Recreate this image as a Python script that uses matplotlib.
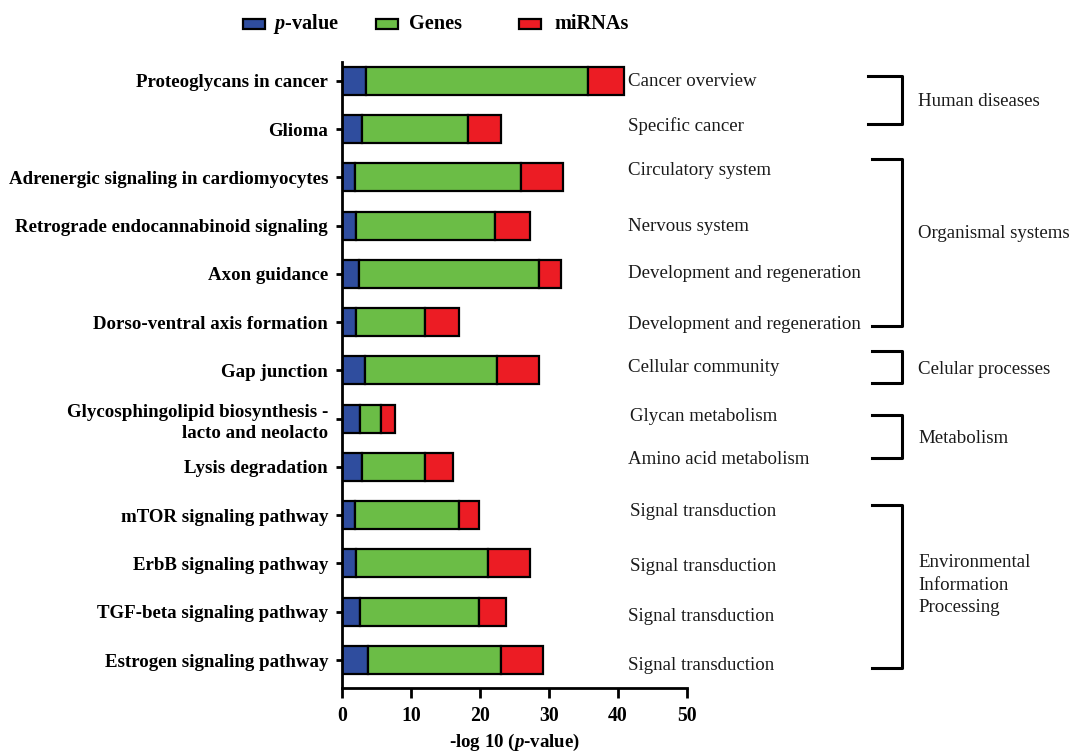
import matplotlib
matplotlib.use("Agg")
import matplotlib.pyplot as plt
from matplotlib.patches import Rectangle

plt.rcParams['font.family'] = ['Liberation Serif', 'DejaVu Serif']
plt.rcParams['mathtext.fontset'] = 'custom'
plt.rcParams['mathtext.it'] = 'Liberation Serif:bold:italic'
plt.rcParams['mathtext.rm'] = 'Liberation Serif:bold'

# KEGG pathways, top to bottom
pathways = ["Proteoglycans in cancer", "Glioma",
            "Adrenergic signaling in cardiomyocytes",
            "Retrograde endocannabinoid signaling", "Axon guidance",
            "Dorso-ventral axis formation", "Gap junction",
            "Glycosphingolipid biosynthesis -\nlacto and neolacto",
            "Lysis degradation", "mTOR signaling pathway",
            "ErbB signaling pathway", "TGF-beta signaling pathway",
            "Estrogen signaling pathway"]
pvalue = [3.5, 2.9, 1.9, 2.0, 2.5, 2.0, 3.3, 2.6, 2.9, 1.9, 2.0, 2.6, 3.8]
genes = [32.1, 15.3, 24.1, 20.2, 26.1, 10.1, 19.2, 3.1, 9.2, 15.1, 19.2, 17.2, 19.2]
mirnas = [5.2, 4.9, 6.0, 5.0, 3.1, 4.9, 6.1, 2.0, 4.0, 2.9, 6.0, 4.0, 6.1]

subclass = ["Cancer overview", "Specific cancer", "Circulatory system",
            "Nervous system", "Development and regeneration",
            "Development and regeneration", "Cellular community",
            "Glycan metabolism", "Amino acid metabolism",
            "Signal transduction", "Signal transduction",
            "Signal transduction", "Signal transduction"]
# vertical pixel offsets of the subclass text relative to the bar
sub_shift = [1, -3, -7, 1, -1, 2, -3, -2, -7, -4, 3, 5, 6]
sub_x = [628, 628, 628, 628, 628, 628, 628, 630, 628, 630, 630, 628, 628]

groups = ["Human diseases", "Organismal systems", "Celular processes",
          "Metabolism", "Environmental\nInformation\nProcessing"]

legend_labels = ["$p$-value", "Genes", "miRNAs"]

W, H = 1070, 753
FS = 13.6
fig = plt.figure(figsize=(W / 100, H / 100), dpi=100)
ax = fig.add_axes([342 / W, 1 - 688 / H, (687 - 342) / W, (688 - 62) / H])

colors = ["#2f4d9e", "#6bbd46", "#ec1c24"]
ypos = list(range(len(pathways)))
left_m = [a + b for a, b in zip(pvalue, genes)]
kw = dict(height=0.58, edgecolor="black", linewidth=1.6)
ax.barh(ypos, pvalue, color=colors[0], **kw)
ax.barh(ypos, genes, left=pvalue, color=colors[1], **kw)
ax.barh(ypos, mirnas, left=left_m, color=colors[2], **kw)

ax.set_ylim(12.58, -0.39)
ax.set_xlim(0, 50)
ax.set_yticks(ypos)
ax.set_yticklabels(pathways, fontsize=FS, fontweight="bold", linespacing=1.3)
ax.set_xticks(range(0, 51, 10))
ax.tick_params(axis="x", labelsize=FS + 0.6, width=2, length=7, pad=6)
ax.tick_params(axis="y", width=2, length=4, pad=6)
for lbl in ax.get_xticklabels():
    lbl.set_fontweight("bold")
for s in ["top", "right"]:
    ax.spines[s].set_visible(False)
for s in ["left", "bottom"]:
    ax.spines[s].set_linewidth(2)
ax.set_xlabel("-log 10 ($p$-value)", fontsize=FS, fontweight="bold", labelpad=4)

def row_px(i):
    return 81 + i * 48.25

for i, (txt, dy, x) in enumerate(zip(subclass, sub_shift, sub_x)):
    fig.text(x / W, 1 - (row_px(i) + dy) / H, txt, fontsize=FS,
             va="center", ha="left", color="#1a1a1a")

# group brackets on the right (pixel rows top/bottom, left x)
brackets = [(76, 124, 868), (159, 326, 872), (351, 383, 872),
            (415, 458, 872), (505, 668, 872)]
label_y = [101, 233, 370, 438, 585]
for (y0, y1, x0), name, ly in zip(brackets, groups, label_y):
    xs = [x0 / W, 902 / W, 902 / W, x0 / W]
    ys = [1 - y0 / H, 1 - y0 / H, 1 - y1 / H, 1 - y1 / H]
    fig.add_artist(plt.Line2D(xs, ys, color="black", linewidth=2.2))
    fig.text(918 / W, 1 - ly / H, name, fontsize=FS, va="center",
             ha="left", color="#1a1a1a", linespacing=1.4)

# legend drawn by hand along the top
patch_x = [243, 376, 519]
text_x = [273, 409, 554]
for c, px, tx, lab in zip(colors, patch_x, text_x, legend_labels):
    fig.add_artist(Rectangle((px / W, 1 - 29 / H), 22 / W, 10 / H,
                             facecolor=c, edgecolor="black", linewidth=1.6))
    fig.text(tx / W, 1 - 24 / H, lab, fontsize=FS + 1, fontweight="bold",
             va="center", ha="left")

fig.savefig("out.png", dpi=100)
